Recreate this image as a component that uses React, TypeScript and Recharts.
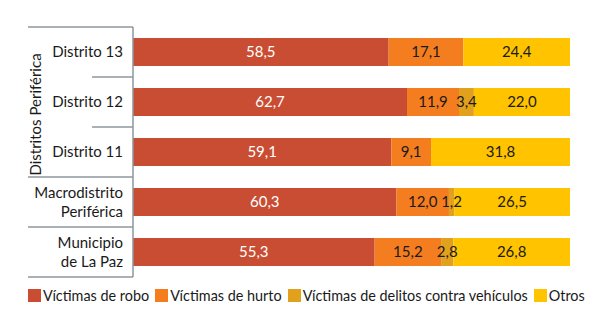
import React from 'react';
import { BarChart, Bar, XAxis, YAxis, LabelList } from 'recharts';

const categories = ['Distrito 13', 'Distrito 12', 'Distrito 11', 'Macrodistrito Periférica', 'Municipio de La Paz'];
const categoryLines = [['Distrito 13'], ['Distrito 12'], ['Distrito 11'], ['Macrodistrito', 'Periférica'], ['Municipio', 'de La Paz']];
const robo = [58.5, 62.7, 59.1, 60.3, 55.3];
const hurto = [17.1, 11.9, 9.1, 12.0, 15.2];
const vehiculos = [null, 3.4, null, 1.2, 2.8];
const otros = [24.4, 22.0, 31.8, 26.5, 26.8];
const groupLabel = 'Distritos Periférica';

const SERIES = [
    { key: 'robo', name: 'Víctimas de robo', color: '#C84D32', label: '#ffffff' },
    { key: 'hurto', name: 'Víctimas de hurto', color: '#F47D20', label: '#1a1a1a' },
    { key: 'vehiculos', name: 'Víctimas de delitos contra vehículos', color: '#E2A11C', label: '#1a1a1a' },
    { key: 'otros', name: 'Otros', color: '#FFC300', label: '#1a1a1a' },
];

const data = categories.map((name, i) => ({
    name,
    robo: robo[i],
    hurto: hurto[i],
    vehiculos: vehiculos[i],
    otros: otros[i],
}));

const FONT = 'Lato, "Open Sans", sans-serif';
const WIDTH = 600;
const HEIGHT = 326;
const MARGIN = { top: 27, right: 30, bottom: 49, left: 0 };
const AXIS_W = 133;
const GRID = '#8C969E';

const bandHalf = (HEIGHT - MARGIN.top - MARGIN.bottom) / categories.length / 2;

const fmt = (v: any) => (v == null ? '' : Number(v).toFixed(1).replace('.', ','));

// category label + the group separators drawn next to the axis
const CategoryTick = ({ x, y, payload, index }: any) => {
    const lines = categoryLines[index] || [payload.value];
    const lh = 19;
    const y0 = y - ((lines.length - 1) * lh) / 2;
    const inGroup = index < 2;
    const axisX = x + 10;
    return (
        <g>
            {lines.map((l: string, k: number) => (
                <text key={k} x={x} y={y0 + k * lh} dy={5} textAnchor="end" fontSize={15} fill="#1a1a1a" fontFamily={FONT}>
                    {l}
                </text>
            ))}
            {index === 0 && <line x1={28} x2={axisX} y1={y - bandHalf} y2={y - bandHalf} stroke={GRID} strokeWidth={1.5} />}
            <line x1={inGroup ? 92 : 28} x2={axisX} y1={y + bandHalf} y2={y + bandHalf} stroke={GRID} strokeWidth={1.5} />
            {index === 1 && (
                <text x={36} y={y + bandHalf / 2} textAnchor="middle" dy={5} fontSize={15} fill="#1a1a1a" fontFamily={FONT}
                    transform={`rotate(-90 36 ${y + bandHalf / 2})`}>
                    {groupLabel}
                </text>
            )}
        </g>
    );
};

const ChartLegend = () => (
    <div style={{ position: 'absolute', left: 28, top: 287, display: 'flex', alignItems: 'center', whiteSpace: 'nowrap', fontFamily: FONT, fontSize: 14.4, color: '#1a1a1a' }}>
        {SERIES.map((s) => (
            <div key={s.key} style={{ display: 'flex', alignItems: 'center', marginRight: 6 }}>
                <span style={{ width: 13, height: 13, background: s.color, marginRight: 2, display: 'inline-block' }} />
                <span>{s.name}</span>
            </div>
        ))}
    </div>
);

export default function App() {
    return (
        <div style={{ position: 'absolute', left: 0, top: 0, width: WIDTH, height: HEIGHT, background: '#fff' }}>
            <BarChart width={WIDTH} height={HEIGHT} data={data} layout="vertical" margin={MARGIN} barCategoryGap="22%">
                <XAxis type="number" domain={[0, 100]} hide allowDataOverflow />
                <YAxis
                    type="category"
                    dataKey="name"
                    width={AXIS_W}
                    tickSize={0}
                    tickMargin={10}
                    tickLine={false}
                    axisLine={{ stroke: GRID, strokeWidth: 1.5 }}
                    tick={<CategoryTick />}
                    interval={0}
                />
                {SERIES.map((s) => (
                    <Bar key={s.key} dataKey={s.key} name={s.name} stackId="a" fill={s.color} isAnimationActive={false}>
                        <LabelList dataKey={s.key} position="center" formatter={fmt} fill={s.label} fontSize={15} fontFamily={FONT} />
                    </Bar>
                ))}
            </BarChart>
            <ChartLegend />
        </div>
    );
}
